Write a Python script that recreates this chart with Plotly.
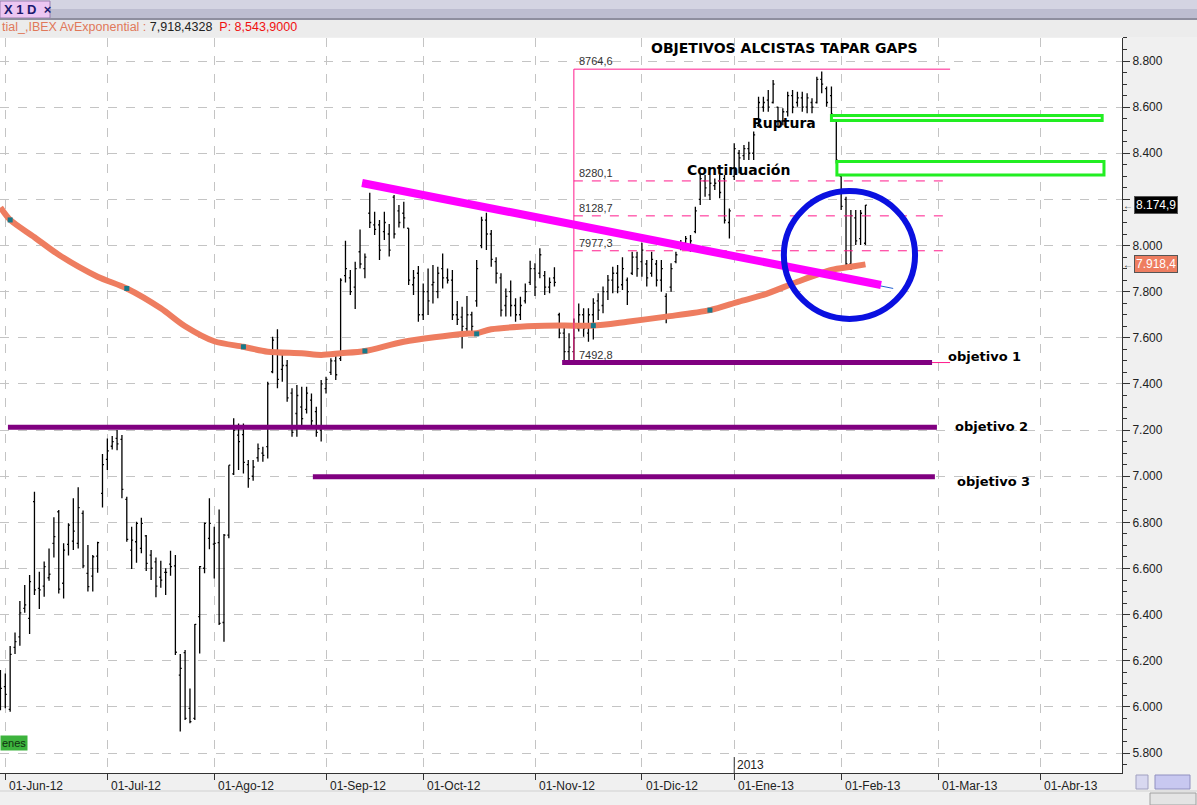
import plotly.graph_objects as go
import pandas as pd

# ---------------- DATA ----------------
holidays = ["2012-12-25", "2012-12-26", "2013-01-01"]

opens = [6120, 6088, 5989, 6258, 6304, 6427, 6384, 6890, 6514, 6524, 6560, 6709, 6846, 6536, 6705, 6719,
         6709, 6839, 6579, 6567, 6654, 6926, 7073, 7130, 7164, 7160, 6900, 6680, 6716, 6687, 6741, 6658,
         6629, 6562, 6583, 6619, 6611, 6138, 6235, 5994, 5950, 6391, 6601, 6731, 6706, 6712, 6366, 6745,
         7010, 7178, 7180, 7050, 7000, 7080, 7100, 7128, 7453, 7533, 7463, 7480, 7360, 7272, 7300, 7290,
         7330, 7280, 7200, 7380, 7450, 7500, 7510, 7870, 7860, 7820, 7973, 7900, 8140, 8090, 8090, 8060,
         8050, 8210, 8150, 8140, 8075, 7830, 7880, 7700, 7800, 7830, 7800, 7900, 7860, 7850, 7700, 7690,
         7640, 7700, 7760, 8000, 8110, 8050, 7930, 7860, 7740, 7800, 7740, 7700, 7760, 7840, 7900, 7880,
         7870, 7820, 7860, 7700, 7620, 7540, 7540, 7640, 7700, 7620, 7700, 7760, 7740, 7800, 7850, 7880,
         7830, 7850, 7880, 7950, 7930, 7920, 7880, 7920, 7850, 7780, 7820, 7930, 7990, 8010, 8000, 8060,
         8200, 8280, 8220, 8260, 8280, 8290, 8100, 8300, 8400, 8390, 8420, 8400, 8520, 8600, 8630, 8620,
         8600, 8540, 8580, 8650, 8620, 8640, 8600, 8620, 8620, 8720, 8680, 8650, 8540, 8300, 8200, 7920,
         8120, 8030, 8010]
highs = [6160, 6145, 6264, 6323, 6459, 6528, 6572, 6933, 6586, 6630, 6687, 6822, 6854, 6709, 6796, 6904,
         6952, 6851, 6702, 6658, 6716, 7096, 7164, 7174, 7200, 7179, 6911, 6781, 6803, 6820, 6745, 6680,
         6648, 6634, 6601, 6677, 6658, 6229, 6247, 6080, 6359, 6611, 6799, 6904, 6781, 6856, 6750, 7048,
         7251, 7229, 7229, 7070, 7070, 7142, 7128, 7410, 7605, 7637, 7533, 7504, 7381, 7395, 7388, 7388,
         7359, 7301, 7417, 7431, 7511, 7525, 7858, 8021, 7894, 7930, 8070, 7966, 8229, 8147, 8111, 8147,
         8093, 8219, 8176, 8190, 8075, 7894, 7911, 7836, 7901, 7916, 7908, 7966, 7901, 7894, 7760, 7735,
         7781, 7713, 7937, 8125, 8142, 8067, 7949, 7880, 7814, 7848, 7771, 7778, 7836, 7934, 7923, 7988,
         7890, 7862, 7906, 7709, 7650, 7620, 7684, 7749, 7728, 7728, 7771, 7793, 7822, 7872, 7908, 7916,
         7949, 7862, 7973, 7973, 8012, 7937, 7973, 7937, 7937, 7793, 7923, 7973, 8024, 8041, 8046, 8168,
         8313, 8306, 8306, 8291, 8306, 8306, 8161, 8443, 8414, 8436, 8450, 8494, 8645, 8645, 8674, 8718,
         8602, 8595, 8667, 8674, 8667, 8667, 8660, 8638, 8732, 8754, 8689, 8689, 8544, 8313, 8212, 8154,
         8154, 8154, 8176]
lows = [5986, 5994, 5979, 6229, 6265, 6408, 6316, 6485, 6424, 6478, 6547, 6648, 6492, 6470, 6656, 6680,
        6687, 6601, 6500, 6500, 6582, 6864, 7027, 7116, 7113, 6904, 6716, 6598, 6625, 6666, 6589, 6550,
        6475, 6517, 6485, 6569, 6225, 5893, 5943, 5929, 5943, 6232, 6579, 6683, 6557, 6355, 6283, 6731,
        7005, 7027, 7012, 6950, 6980, 7063, 7063, 7077, 7446, 7381, 7410, 7323, 7171, 7171, 7222, 7272,
        7215, 7171, 7150, 7359, 7439, 7417, 7500, 7840, 7786, 7725, 7900, 7858, 8076, 8046, 7937, 8024,
        7952, 8031, 8078, 8075, 7829, 7786, 7670, 7677, 7699, 7749, 7771, 7814, 7836, 7677, 7656, 7554,
        7627, 7627, 7735, 7988, 7981, 7908, 7836, 7692, 7692, 7692, 7670, 7677, 7749, 7829, 7781, 7858,
        7786, 7793, 7822, 7598, 7500, 7504, 7493, 7627, 7605, 7583, 7593, 7677, 7706, 7764, 7793, 7793,
        7807, 7742, 7872, 7865, 7865, 7822, 7865, 7822, 7800, 7663, 7800, 7923, 7980, 8002, 7973, 8053,
        8176, 8212, 8197, 8241, 8205, 8096, 8031, 8284, 8313, 8371, 8371, 8371, 8515, 8580, 8580, 8616,
        8515, 8522, 8559, 8573, 8602, 8580, 8573, 8573, 8616, 8660, 8602, 8559, 8356, 8154, 7894, 7894,
        8002, 8002, 8002]
closes = [6080, 6054, 6228, 6283, 6408, 6442, 6543, 6507, 6507, 6608, 6575, 6738, 6511, 6680, 6788, 6762,
          6864, 6611, 6521, 6651, 6712, 7050, 7110, 7150, 7140, 6943, 6726, 6723, 6796, 6796, 6622, 6601,
          6524, 6550, 6583, 6608, 6237, 6167, 5950, 5936, 6358, 6608, 6796, 6796, 6709, 6362, 6745, 7048,
          7200, 7150, 7060, 6990, 7040, 7120, 7090, 7400, 7590, 7420, 7480, 7340, 7190, 7350, 7250, 7360,
          7240, 7190, 7400, 7420, 7500, 7440, 7850, 7900, 7800, 7900, 7920, 7950, 8100, 8070, 7980, 8100,
          7980, 8050, 8100, 8120, 7850, 7860, 7700, 7800, 7760, 7840, 7880, 7860, 7850, 7700, 7680, 7650,
          7700, 7650, 7900, 8110, 8050, 7940, 7880, 7720, 7780, 7740, 7700, 7740, 7800, 7900, 7820, 7960,
          7820, 7840, 7840, 7620, 7540, 7560, 7600, 7700, 7640, 7700, 7750, 7720, 7800, 7850, 7880, 7820,
          7900, 7800, 7950, 7900, 7980, 7860, 7940, 7850, 7900, 7700, 7900, 7960, 8010, 8030, 8020, 8150,
          8290, 8250, 8270, 8270, 8230, 8110, 8150, 8420, 8380, 8420, 8400, 8480, 8620, 8620, 8600, 8700,
          8540, 8580, 8650, 8600, 8640, 8600, 8640, 8600, 8720, 8700, 8620, 8570, 8370, 8170, 7920, 8130,
          8020, 8140, 8174.9]

ema_dates = ["2012-05-31", "2012-06-04", "2012-06-11", "2012-06-18", "2012-06-28", "2012-07-06",
             "2012-07-17", "2012-07-24", "2012-08-01", "2012-08-09", "2012-08-16", "2012-08-27",
             "2012-08-31", "2012-09-06", "2012-09-13", "2012-09-25", "2012-10-11", "2012-10-16",
             "2012-10-19", "2012-11-01", "2012-11-09", "2012-11-19", "2012-11-28", "2012-12-10",
             "2012-12-21", "2013-01-03", "2013-01-10", "2013-01-21", "2013-01-30", "2013-02-05",
             "2013-02-08"]
ema_values = [8165, 8111, 8036, 7960, 7865, 7814, 7728, 7650, 7585, 7561, 7540, 7533, 7526, 7533, 7543,
              7583, 7617, 7620, 7637, 7651, 7653, 7653, 7670, 7692, 7720, 7757, 7786, 7843, 7894, 7908,
              7918.4]
cross_dates = ["2012-06-04", "2012-07-06", "2012-08-09", "2012-09-13", "2012-10-16", "2012-11-19",
               "2012-12-21"]
cross_values = [8111, 7814, 7561, 7543, 7617, 7653, 7720]

month_ticks = ["2012-06-01", "2012-07-02", "2012-08-01", "2012-09-03", "2012-10-01", "2012-11-01",
               "2012-12-03", "2013-01-02", "2013-02-01", "2013-03-01", "2013-04-01"]
month_labels = ["01-Jun-12", "01-Jul-12", "01-Ago-12", "01-Sep-12", "01-Oct-12", "01-Nov-12",
                "01-Dic-12", "01-Ene-13", "01-Feb-13", "01-Mar-13", "01-Abr-13"]
y_tickvals = [5800, 6000, 6200, 6400, 6600, 6800, 7000, 7200, 7400, 7600, 7800, 8000, 8200, 8400,
              8600, 8800]
y_ticktext = ["5.800", "6.000", "6.200", "6.400", "6.600", "6.800", "7.000", "7.200", "7.400", "7.600",
              "7.800", "8.000", "", "8.400", "8.600", "8.800"]

# drawing tools (dates, values)
trend_x = ["2012-09-12 10:00", "2013-02-13 05:00"]
trend_y = [8271, 7829]
trend_ext_x = ["2012-09-12 10:00", "2013-02-15 17:00"]
trend_ext_y = [8271, 7814]
fib_start = "2012-11-13"
fib_end = "2013-03-05 10:00"
fib_high, fib_low = 8764.6, 7492.8
fib_levels = [8280.1, 8128.7, 7977.3]
fib_labels = ["8764,6", "8280,1", "8128,7", "7977,3", "7492,8"]
objetivo_x0 = ["2012-11-08 14:00", "2012-06-01 13:00", "2012-08-29 07:00"]
objetivo_x1 = ["2013-02-27 17:00", "2013-02-28 17:00", "2013-02-28 07:00"]
objetivo_y = [7492.8, 7212, 6998]
objetivo_text = ["objetivo 1", "objetivo 2", "objetivo 3"]
gap_x0 = ["2013-01-30 00:00", "2013-01-31 03:00"]
gap_x1 = ["2013-04-17 17:00", "2013-04-18 02:00"]
gap_y0 = [8542, 8306]
gap_y1 = [8564, 8364]
circle_x = ["2013-01-16 05:00", "2013-02-22 05:00"]
circle_y = [7682, 8236]
last_close = 8174.9
last_ema = 7918.4

# ---------------- FIGURE ----------------
dates = pd.bdate_range("2012-05-31", periods=len(closes), freq="C", holidays=holidays)
dates = [d.strftime("%Y-%m-%d") for d in dates]

W, H = 1197, 805
ML, MR, MT, MB = 0, 75, 38, 32
PW, PH = W - ML - MR, H - MT - MB


def px(X):
    return (X - ML) / PW


def py(Y):
    return (H - MB - Y) / PH


EMA_C = "#EE7D60"
fig = go.Figure()
fig.add_trace(go.Scatter(x=ema_dates, y=ema_values, mode="lines",
                         line=dict(color=EMA_C, width=6, shape="spline", smoothing=0.8),
                         hoverinfo="skip", showlegend=False))
fig.add_trace(go.Ohlc(x=dates, open=opens, high=highs, low=lows, close=closes,
                      increasing=dict(line=dict(color="black", width=1.3)),
                      decreasing=dict(line=dict(color="black", width=1.3)),
                      tickwidth=0.3, showlegend=False))
fig.add_trace(go.Scatter(x=cross_dates, y=cross_values, mode="markers",
                         marker=dict(symbol="square", size=5, color="#17798A"),
                         hoverinfo="skip", showlegend=False))

shapes = []
PINK = "#FF1A8C"
# fib box
shapes.append(dict(type="line", xref="x", yref="y", x0=fib_start, x1=fib_start, y0=fib_low, y1=fib_high,
                   line=dict(color=PINK, width=1)))
shapes.append(dict(type="line", xref="x", yref="y", x0=fib_start, x1=fib_end, y0=fib_high, y1=fib_high,
                   line=dict(color=PINK, width=1)))
shapes.append(dict(type="line", xref="x", yref="y", x0=fib_start, x1=fib_end, y0=fib_low, y1=fib_low,
                   line=dict(color=PINK, width=1)))
for lv in fib_levels:
    shapes.append(dict(type="line", xref="x", yref="y", x0=fib_start, x1=fib_end, y0=lv, y1=lv,
                       line=dict(color=PINK, width=1, dash="dash")))
# objetivo lines
for a, b, v in zip(objetivo_x0, objetivo_x1, objetivo_y):
    shapes.append(dict(type="line", xref="x", yref="y", x0=a, x1=b, y0=v, y1=v,
                       line=dict(color="#800080", width=5)))
# trendline
shapes.append(dict(type="line", xref="x", yref="y", x0=trend_ext_x[0], x1=trend_ext_x[1],
                   y0=trend_ext_y[0], y1=trend_ext_y[1], line=dict(color="#2060D0", width=1)))
shapes.append(dict(type="line", xref="x", yref="y", x0=trend_x[0], x1=trend_x[1],
                   y0=trend_y[0], y1=trend_y[1], line=dict(color="#FF00FF", width=8)))
# gap boxes
for a, b, c, d in zip(gap_x0, gap_x1, gap_y0, gap_y1):
    shapes.append(dict(type="rect", xref="x", yref="y", x0=a, x1=b, y0=c, y1=d,
                       line=dict(color="#22EE22", width=3), fillcolor="white"))
# circle
shapes.append(dict(type="circle", xref="x", yref="y", x0=circle_x[0], x1=circle_x[1],
                   y0=circle_y[0], y1=circle_y[1], line=dict(color="#0A10E0", width=6)))
# 2013 marker
shapes.append(dict(type="line", xref="x", yref="paper", x0="2013-01-02", x1="2013-01-02",
                   y0=0, y1=py(757), line=dict(color="#333333", width=1)))

# header
shapes.append(dict(type="rect", xref="paper", yref="paper", x0=0, x1=px(W), y0=py(0), y1=py(9),
                   line=dict(width=0), fillcolor="#D4D4E2", layer="above"))
shapes.append(dict(type="rect", xref="paper", yref="paper", x0=0, x1=px(W), y0=py(9), y1=py(18),
                   line=dict(width=0), fillcolor="#BDBDD0", layer="above"))
shapes.append(dict(type="rect", xref="paper", yref="paper", x0=0, x1=px(50), y0=py(1), y1=py(18),
                   line=dict(color="#9A7FB0", width=1), fillcolor="#ECC6F2", layer="above"))
shapes.append(dict(type="rect", xref="paper", yref="paper", x0=0, x1=px(W), y0=py(18), y1=py(20),
                   line=dict(width=0), fillcolor="#8E8E9E", layer="above"))
shapes.append(dict(type="rect", xref="paper", yref="paper", x0=0, x1=px(W), y0=py(20), y1=py(37),
                   line=dict(width=0), fillcolor="#ECECEC", layer="above"))
# bottom bar
shapes.append(dict(type="line", xref="paper", yref="paper", x0=0, x1=px(W), y0=py(791), y1=py(791),
                   line=dict(color="#D0D0D0", width=1)))
shapes.append(dict(type="rect", xref="paper", yref="paper", x0=px(1150), x1=px(1196), y0=py(793), y1=py(805),
                   line=dict(color="#A0A0A0", width=1), fillcolor="#E4E4E4"))
shapes.append(dict(type="rect", xref="paper", yref="paper", x0=px(1155), x1=px(1190), y0=py(775), y1=py(789),
                   line=dict(color="#9090C0", width=1), fillcolor="#C8C8F0"))
shapes.append(dict(type="rect", xref="paper", yref="paper", x0=px(1136), x1=px(1148), y0=py(775), y1=py(789),
                   line=dict(color="#A0A0C0", width=1), fillcolor="#D8D8F0"))

ann = []
FONT = "Liberation Sans, Arial, sans-serif"
BFONT = "DejaVu Sans, Liberation Sans, sans-serif"
# month labels
for d, t in zip(month_ticks, month_labels):
    ann.append(dict(x=d, xref="x", y=py(786), yref="paper", text=t, showarrow=False, xanchor="left",
                    yanchor="middle", xshift=2, font=dict(family=FONT, size=12, color="#222")))
ann.append(dict(x="2013-01-02", xref="x", y=py(765), yref="paper", text="2013", showarrow=False,
                xanchor="left", yanchor="middle", xshift=1, font=dict(family=FONT, size=12, color="#222")))
# fib labels
for v, t in zip([fib_high] + fib_levels + [fib_low], fib_labels):
    ann.append(dict(x=fib_start, xref="x", y=v, yref="y", text=t, showarrow=False, xanchor="left",
                    yanchor="bottom", xshift=3, yshift=0, font=dict(family=FONT, size=11, color="#333")))
# titles
BOLD = dict(family=BFONT, size=14, color="black")
ann.append(dict(x=px(784), y=py(48), xref="paper", yref="paper", text="<b>OBJETIVOS ALCISTAS TAPAR GAPS</b>",
                showarrow=False, xanchor="center", yanchor="middle", font=BOLD))
ann.append(dict(x=px(784), y=py(123), xref="paper", yref="paper", text="<b>Ruptura</b>",
                showarrow=False, xanchor="center", yanchor="middle", font=dict(BOLD, size=14)))
ann.append(dict(x=px(738), y=py(170), xref="paper", yref="paper", text="<b>Continuación</b>",
                showarrow=False, xanchor="center", yanchor="middle", font=dict(BOLD, size=14)))
for X, Y, t in zip([946, 953, 955], [356, 426, 481], objetivo_text):
    ann.append(dict(x=px(X), y=py(Y), xref="paper", yref="paper", text="<b>%s</b>" % t,
                    showarrow=False, xanchor="left", yanchor="middle", font=dict(BOLD, size=13)))
# price boxes on axis
ann.append(dict(x=px(1156), xref="paper", y=last_close, yref="y", text="8.174,9", showarrow=False,
                xanchor="center", yanchor="middle", bgcolor="black", bordercolor="#555", borderwidth=1,
                borderpad=1, font=dict(family=FONT, size=12, color="white")))
ann.append(dict(x=px(1156), xref="paper", y=last_ema, yref="y", text="7.918,4", showarrow=False,
                xanchor="center", yanchor="middle", bgcolor=EMA_C, bordercolor="#555", borderwidth=1,
                borderpad=1, font=dict(family=FONT, size=12, color="white")))
for v in [last_close, last_ema]:
    ann.append(dict(x=px(1128), xref="paper", y=v, yref="y", text="←", showarrow=False,
                    xanchor="center", yanchor="middle", font=dict(family=FONT, size=10, color="#333")))
# header texts
ann.append(dict(x=px(2), y=py(10), xref="paper", yref="paper", text="<b>X 1 D</b>  <b>×</b>", showarrow=False,
                xanchor="left", yanchor="middle", font=dict(family=FONT, size=13, color="#1A1A6E")))
ann.append(dict(x=0, y=py(27), xref="paper", yref="paper",
                text='<span style="color:#E0785A">tial_,IBEX AvExponential :</span> '
                     '<span style="color:#222">7,918,4328</span>  '
                     '<span style="color:#F01010">P: 8,543,9000</span>',
                showarrow=False, xanchor="left", yanchor="middle",
                font=dict(family=FONT, size=12.5, color="#222")))
ann.append(dict(x=0, y=py(743), xref="paper", yref="paper", text="enes", showarrow=False,
                xanchor="left", yanchor="middle", bgcolor="#3DB33D", borderpad=1,
                font=dict(family=FONT, size=11, color="#103010")))

GRID = "#C4C4C4"
fig.update_layout(
    width=W, height=H, margin=dict(l=ML, r=MR, t=MT, b=MB, pad=0),
    paper_bgcolor="#F0F0F0", plot_bgcolor="white", separators=",.",
    showlegend=False, shapes=shapes, annotations=ann, hovermode=False,
    xaxis=dict(type="date", range=["2012-05-30 21:50", "2013-04-23 19:00"],
               rangebreaks=[dict(bounds=["sat", "mon"]), dict(values=holidays)],
               rangeslider=dict(visible=False), tickmode="array", tickvals=month_ticks,
               showticklabels=False, ticks="outside", ticklen=6, tickcolor="#333",
               showgrid=True, gridcolor=GRID, griddash="dash", gridwidth=1,
               showline=True, linecolor="#333", linewidth=1, zeroline=False),
    yaxis=dict(side="right", range=[5713.5, 8899.7], tickmode="array", tickvals=y_tickvals,
               ticktext=y_ticktext, ticks="outside", ticklen=7, tickcolor="#333",
               minor=dict(dtick=50, tick0=0, ticks="outside", ticklen=4, tickcolor="#333", showgrid=False),
               showgrid=True, gridcolor=GRID, griddash="dash", gridwidth=1,
               showline=True, linecolor="#333", linewidth=1, zeroline=False,
               tickfont=dict(family=FONT, size=12, color="#222")),
)
fig.write_html("out.html", config={"displayModeBar": False},
               post_script="document.body.style.margin='0';document.body.style.padding='0';"
                           "document.documentElement.style.overflow='hidden';")
